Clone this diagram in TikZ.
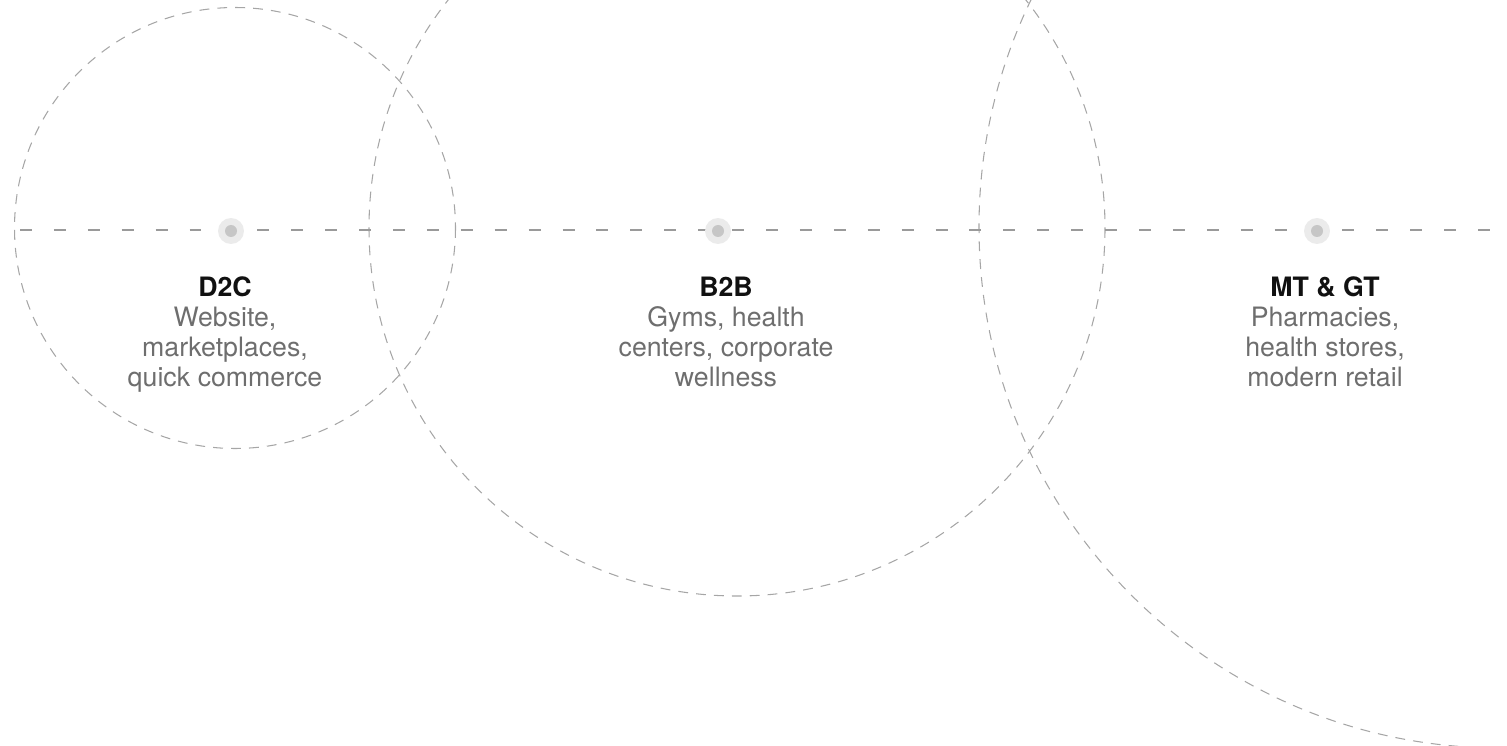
\documentclass[tikz,border=0pt]{standalone}
\usepackage{fontspec}
\setmainfont{TeX Gyre Heros}
\usepackage{tikz}
\usetikzlibrary{positioning}
\definecolor{ringgray}{HTML}{A6A6A6}
\definecolor{axisgray}{HTML}{9A9A9A}
\definecolor{dotlight}{HTML}{EBEBEB}
\definecolor{dotdark}{HTML}{C6C6C6}
\definecolor{bodygray}{HTML}{6E6E6E}
\definecolor{headblack}{HTML}{111111}
\tikzset{
  channel/.style={draw=ringgray, line width=0.6pt, dash pattern=on 5.6pt off 4.6pt},
  axis/.style={draw=axisgray, line width=1.1pt, dash pattern=on 6.8pt off 12.5pt},
  halo/.style={circle, fill=dotlight, minimum size=0.52cm, inner sep=0pt},
  core/.style={circle, fill=dotdark, minimum size=0.24cm, inner sep=0pt},
  heading/.style={font=\fontsize{15.2pt}{16.8pt}\selectfont\bfseries, text=headblack, inner sep=0pt},
  blurb/.style={font=\fontsize{15.2pt}{16.8pt}\selectfont, text=bodygray, align=center, inner sep=0pt}
}

\begin{document}
\begin{tikzpicture}[x=0.02cm, y=-0.02cm]
			%%%%% START %%%%%
			\useasboundingbox (0, 0) rectangle (1507, 746);
			\clip (0, 0) rectangle (1507, 746);
			
			% channel circles
			\draw[channel] (235, 228) circle (220.5);
			\draw[channel] (737, 228) circle (368);
			\draw[channel] (1500, 227) circle (521);
			
			% axis
			\coordinate (axisstart) at (20, 230);
			\coordinate (axisend) at (1507, 230);
			\draw[axis] (axisstart) -- (axisend);
			
			% markers
			\node[halo] (dtc) at (231, 231) {};
			\node[core] at (dtc) {};
			\node[halo] (btb) at (718, 231) {};
			\node[core] at (btb) {};
			\node[halo] (mtgt) at (1317, 231) {};
			\node[core] at (mtgt) {};
			
			% labels (base = last line)
			\node[heading, anchor=base] (dtchead) at (225, 297) {D2C};
			\node[blurb, anchor=base] (dtctext) at (225, 386) {Website,\\marketplaces,\\quick commerce};
			
			\node[heading, anchor=base] (btbhead) at (726, 297) {B2B};
			\node[blurb, anchor=base] (btbtext) at (726, 386) {Gyms, health\\centers, corporate\\wellness};
			
			\node[heading, anchor=base] (mtgthead) at (1325, 297) {MT \& GT};
			\node[blurb, anchor=base] (mtgttext) at (1325, 386) {Pharmacies,\\health stores,\\modern retail};
			%%%%% END %%%%%
\end{tikzpicture}
\end{document}
